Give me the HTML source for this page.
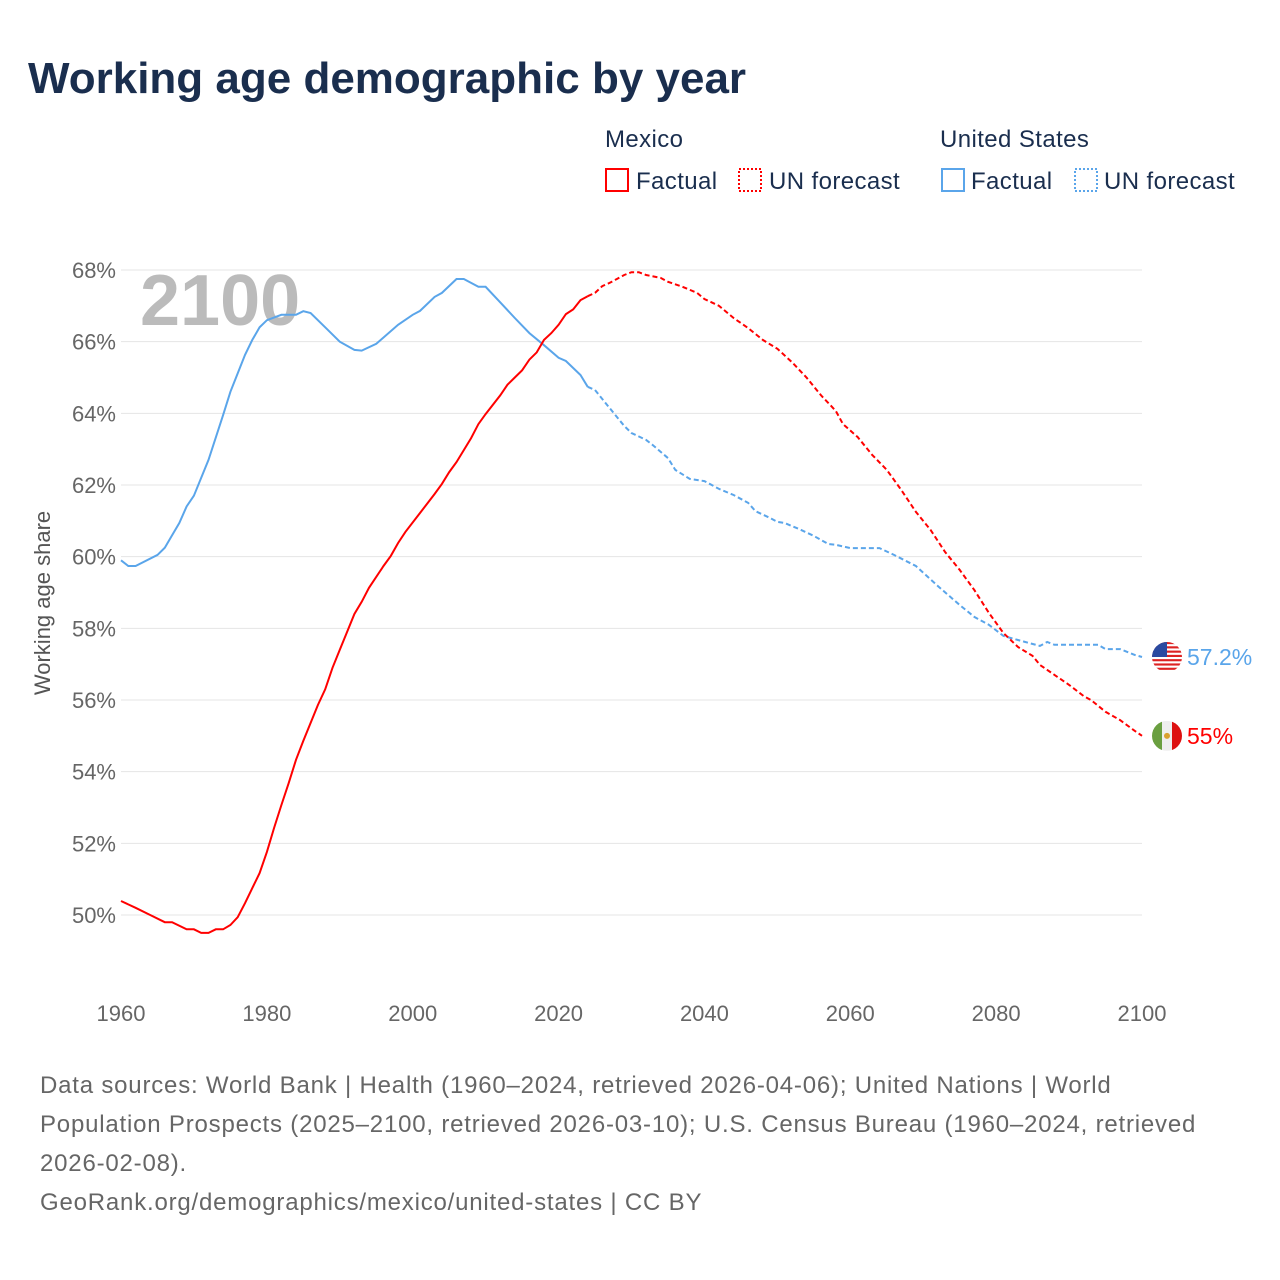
<!DOCTYPE html>
<html><head><meta charset="utf-8"><style>
body{margin:0;background:#fff;font-family:"Liberation Sans",sans-serif;}
#wrap{position:relative;width:1280px;height:1280px;overflow:hidden;}
</style></head><body>
<div id="wrap">
<svg id="svg" width="1280" height="1280">
<text x="28" y="93" font-size="44" font-weight="bold" fill="#1a2e4e">Working age demographic by year</text>
<g font-size="24" fill="#1a2e4e" letter-spacing="0.4">
<text x="605" y="147">Mexico</text>
<text x="940" y="147">United States</text>
<g><rect x="606" y="169" width="22" height="22" fill="none" stroke="#f00" stroke-width="2"/><text x="636" y="189">Factual</text></g>
<g><rect x="739" y="169" width="22" height="22" fill="none" stroke="#f00" stroke-width="2" stroke-dasharray="2,2"/><text x="769" y="189">UN forecast</text></g>
<g><rect x="942" y="169" width="22" height="22" fill="none" stroke="#5aa5ea" stroke-width="2"/><text x="971" y="189">Factual</text></g>
<g><rect x="1075" y="169" width="22" height="22" fill="none" stroke="#5aa5ea" stroke-width="2" stroke-dasharray="2,2"/><text x="1104" y="189">UN forecast</text></g>
</g>
<text x="140" y="325" font-size="72" font-weight="bold" fill="#bbb">2100</text>
<g id="grid"></g><g id="lines"></g>
<text transform="translate(50,603) rotate(-90)" text-anchor="middle" font-size="22" fill="#555">Working age share</text>
<g font-size="24" fill="#666" letter-spacing="0.8">
<text x="40" y="1093">Data sources: World Bank | Health (1960–2024, retrieved 2026-04-06); United Nations | World</text>
<text x="40" y="1132">Population Prospects (2025–2100, retrieved 2026-03-10); U.S. Census Bureau (1960–2024, retrieved</text>
<text x="40" y="1171">2026-02-08).</text>
<text x="40" y="1210">GeoRank.org/demographics/mexico/united-states | CC BY</text>
</g>
</svg></div>
<script>
const xTicks=[1960,1980,2000,2020,2040,2060,2080,2100];
const yTicks=[50,52,54,56,58,60,62,64,66,68];
const usYears=[1960,1961,1962,1965,1966,1967,1968,1969,1970,1972,1974,1975,1977,1978,1979,1980,1982,1984,1985,1986,1988,1990,1992,1993,1995,1998,2000,2001,2003,2004,2006,2007,2008,2009,2010,2012,2014,2016,2018,2020,2021,2023,2024,2025,2027,2029,2030,2032,2033,2035,2036,2038,2040,2042,2044,2046,2047,2049,2050,2051,2053,2055,2057,2058,2060,2063,2064,2066,2069,2072,2075,2077,2079,2081,2082,2084,2086,2087,2088,2090,2094,2095,2097,2099,2100];
const usVals=[59.9,59.74,59.74,60.05,60.25,60.6,60.94,61.4,61.7,62.7,63.95,64.6,65.63,66.05,66.4,66.6,66.75,66.75,66.85,66.8,66.4,66.0,65.77,65.75,65.94,66.47,66.75,66.86,67.25,67.36,67.75,67.75,67.64,67.53,67.53,67.1,66.66,66.24,65.9,65.55,65.46,65.07,64.74,64.65,64.15,63.65,63.45,63.26,63.1,62.75,62.42,62.17,62.11,61.89,61.72,61.5,61.27,61.08,60.97,60.94,60.77,60.58,60.35,60.33,60.24,60.24,60.24,60.05,59.74,59.18,58.65,58.32,58.1,57.79,57.73,57.62,57.51,57.62,57.54,57.54,57.54,57.42,57.42,57.26,57.2];
const mxYears=[1960,1962,1964,1966,1967,1969,1970,1971,1972,1973,1974,1975,1976,1977,1978,1979,1980,1981,1982,1983,1984,1985,1987,1988,1989,1990,1992,1993,1994,1996,1997,1998,1999,2001,2003,2004,2005,2006,2008,2009,2010,2012,2013,2014,2015,2016,2017,2018,2019,2020,2021,2022,2023,2024,2025,2026,2027,2028,2029,2030,2031,2032,2034,2035,2037,2039,2040,2042,2044,2046,2048,2050,2052,2054,2056,2058,2059,2061,2063,2065,2067,2069,2071,2073,2075,2077,2079,2081,2083,2085,2086,2088,2090,2092,2093,2095,2097,2099,2100];
const mxVals=[50.39,50.2,50.0,49.8,49.8,49.6,49.6,49.5,49.5,49.6,49.6,49.72,49.94,50.33,50.75,51.17,51.76,52.43,53.07,53.68,54.33,54.86,55.86,56.3,56.9,57.4,58.4,58.74,59.13,59.74,60.02,60.38,60.69,61.22,61.75,62.03,62.36,62.64,63.31,63.7,63.98,64.5,64.8,65.0,65.2,65.5,65.7,66.05,66.24,66.47,66.77,66.9,67.16,67.27,67.36,67.55,67.64,67.75,67.86,67.94,67.94,67.86,67.78,67.67,67.53,67.36,67.19,67.0,66.66,66.38,66.05,65.8,65.43,65.0,64.5,64.07,63.7,63.34,62.84,62.42,61.86,61.25,60.75,60.13,59.63,59.07,58.43,57.87,57.48,57.23,56.98,56.7,56.42,56.11,56.0,55.67,55.44,55.14,55.0];
const lastFactual=2024;
const NS="http://www.w3.org/2000/svg";
const X=y=>121+(y-1960)*(1142-121)/140;
const Y=v=>915-(v-50)*(915-270)/18;
function mk(tag,attrs,parent){const e=document.createElementNS(NS,tag);for(const k in attrs)e.setAttribute(k,attrs[k]);parent.appendChild(e);return e;}
const grid=document.getElementById('grid'),lines=document.getElementById('lines');
yTicks.forEach(t=>{
 const l=mk('line',{x1:121,x2:1142,y1:Y(t),y2:Y(t),stroke:'#e4e4e4','stroke-width':1},grid);
 
 
 const tx=mk('text',{x:116,y:Y(t)+8,'text-anchor':'end','font-size':22,fill:'#666'},grid);tx.textContent=t+'%';
 
 
});
xTicks.forEach(t=>{
 const tx=mk('text',{x:X(t),y:1021,'text-anchor':'middle','font-size':22,fill:'#666'},grid);tx.textContent=t;
 
 
});
function series(yrs,vals,color,name){
 const f=[],p=[];
 yrs.forEach((y,i)=>{const pt=X(y).toFixed(1)+','+Y(vals[i]).toFixed(1);if(y<=lastFactual)f.push(pt);if(y>=lastFactual)p.push(pt);});
 const a=mk('polyline',{points:f.join(' '),fill:'none',stroke:color,'stroke-width':2},lines);
 
 
 const b=mk('polyline',{points:p.join(' '),fill:'none',stroke:color,'stroke-width':2,'stroke-dasharray':'5,3'},lines);
 
 
}
series(usYears,usVals,'#5aa5ea','us');
series(mxYears,mxVals,'#f00','mexico');
const uy=Y(usVals[usVals.length-1]),my=Y(mxVals[mxVals.length-1]);
const fu=mk('g',{},lines);


const cpu=mk('clipPath',{id:'cu'},fu);mk('circle',{cx:1167,cy:uy,r:15},cpu);
const gu=mk('g',{'clip-path':'url(#cu)'},fu);
mk('rect',{x:1152,y:uy-15,width:30,height:30,fill:'#fff'},gu);
for(let i=0;i<7;i++)mk('rect',{x:1152,y:uy-15+i*30/7,width:30,height:15/7,fill:'#d22'},gu);
mk('rect',{x:1152,y:uy-15,width:15,height:15,fill:'#2a4aa0'},gu);
const fm=mk('g',{},lines);


const cpm=mk('clipPath',{id:'cm'},fm);mk('circle',{cx:1167,cy:my,r:15},cpm);
const gm=mk('g',{'clip-path':'url(#cm)'},fm);
mk('rect',{x:1152,y:my-15,width:10,height:30,fill:'#6a9f40'},gm);
mk('rect',{x:1162,y:my-15,width:10,height:30,fill:'#eee'},gm);
mk('rect',{x:1172,y:my-15,width:10,height:30,fill:'#d11'},gm);
mk('circle',{cx:1167,cy:my,r:3,fill:'#d9a030'},gm);
const lu=mk('text',{x:1187,y:uy+8,'font-size':23,fill:'#5aa5ea'},lines);lu.textContent='57.2%';


const lm=mk('text',{x:1187,y:my+8,'font-size':23,fill:'#f00'},lines);lm.textContent='55%';


</script>
</body></html>
